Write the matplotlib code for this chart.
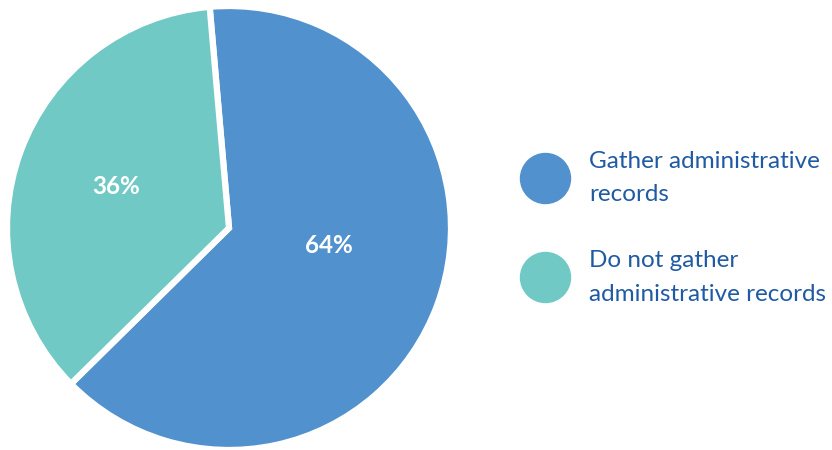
import matplotlib
matplotlib.use("Agg")
import numpy as np
import matplotlib.pyplot as plt
from matplotlib.lines import Line2D

labels = ["Gather administrative\nrecords", "Do not gather\nadministrative records"]
values = [64, 36]
colors = ["#5191CE", "#70C9C4"]
text_color = "#1F5AA3"

plt.rcParams['font.family'] = ['Lato', 'DejaVu Sans']

fig = plt.figure(figsize=(8.32, 4.5), dpi=100)
ax = fig.add_axes([7/832, 0.0, 444/832, 444/450])
wedges, texts, autotexts = ax.pie(
    values, colors=colors, startangle=95, counterclock=False,
    autopct=lambda p: f"{p:.0f}%", pctdistance=0.54,
    wedgeprops=dict(edgecolor="white", linewidth=4.5),
    textprops=dict(color="white", fontsize=17.5, fontweight="bold"),
)
# the larger slice's label sits a bit off its mid-angle in the original
ang = np.deg2rad(-10)
autotexts[0].set_position((0.457 * np.cos(ang), 0.457 * np.sin(ang)))
ax.set_xlim(-1, 1)
ax.set_ylim(-1, 1)
ax.set_aspect("equal")
ax.axis("off")

handles = [Line2D([], [], marker="o", linestyle="none", markersize=36,
                  markerfacecolor=c, markeredgecolor=c) for c in colors]
leg = fig.legend(handles, labels, loc="center left", bbox_to_anchor=(505/832, 0.494),
                 frameon=False, fontsize=17.5, labelcolor=text_color,
                 handletextpad=1.05, labelspacing=1.83, handlelength=1.5)
for t in leg.texts:
    t.set_linespacing(1.76)
fig.savefig("out.png", dpi=100)
